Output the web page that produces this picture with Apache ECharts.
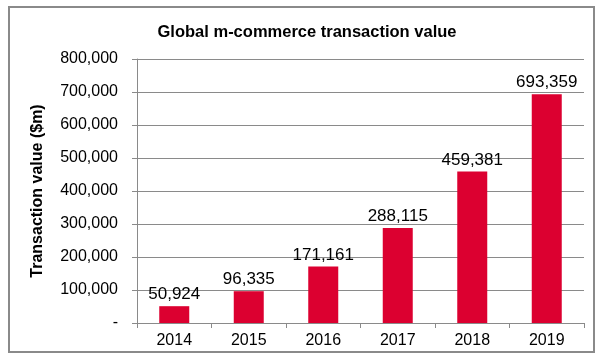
<!DOCTYPE html>
<html>
<head>
<meta charset="utf-8">
<script src="https://cdn.jsdelivr.net/npm/echarts@6/dist/echarts.min.js"></script>
<style>html,body{margin:0;padding:0;background:#fff;}#c{width:600px;height:357px;}</style>
</head>
<body>
<div id="c"></div>
<script>
const titleText = 'Global m-commerce transaction value';
const yAxisName = 'Transaction value ($m)';
const categories = ['2014', '2015', '2016', '2017', '2018', '2019'];
const values = [50924, 96335, 171161, 288115, 459381, 693359];
const yTicks = [0, 100000, 200000, 300000, 400000, 500000, 600000, 700000, 800000];

const fmt = v => v === 0 ? '-' : v.toLocaleString('en-US');
const chart = echarts.init(document.getElementById('c'));
chart.setOption({
  animation: false,
  backgroundColor: '#fff',
  textStyle: { fontFamily: 'Liberation Sans, Arial, sans-serif' },
  graphic: [{
    type: 'rect', shape: { x: 9, y: 7, width: 585, height: 345 },
    style: { fill: 'none', stroke: '#8a8a8a', lineWidth: 2 }, z: -1
  }],
  title: {
    text: titleText, left: 302, top: 19, textAlign: 'center',
    textStyle: { fontSize: 16.5, fontWeight: 'bold', color: '#000', fontFamily: 'Liberation Sans, Arial, sans-serif' }
  },
  grid: { left: 137, right: 16, top: 59, bottom: 34 },
  xAxis: {
    type: 'category', data: categories,
    axisLine: { lineStyle: { color: '#8a8a8a', width: 1 } },
    axisTick: { show: true, length: 5, alignWithLabel: false, lineStyle: { color: '#8a8a8a' } },
    axisLabel: { color: '#000', fontSize: 16, margin: 10 }
  },
  yAxis: {
    type: 'value', min: yTicks[0], max: yTicks[yTicks.length - 1], interval: 100000,
    name: yAxisName, nameLocation: 'middle', nameGap: 91,
    nameTextStyle: { fontSize: 16, fontWeight: 'bold', color: '#000' },
    axisLine: { show: true, lineStyle: { color: '#8a8a8a' } },
    axisTick: { show: true, length: 5, lineStyle: { color: '#8a8a8a' } },
    axisLabel: { color: '#000', fontSize: 16, margin: 19, formatter: fmt },
    splitLine: { lineStyle: { color: '#8a8a8a', width: 1 } }
  },
  series: [{
    type: 'bar', data: values, barWidth: 30,
    itemStyle: { color: '#dc0030' },
    label: { show: true, position: 'top', distance: 3, color: '#000', fontSize: 17,
      formatter: p => fmt(p.value) }
  }]
});
</script>
</body>
</html>
